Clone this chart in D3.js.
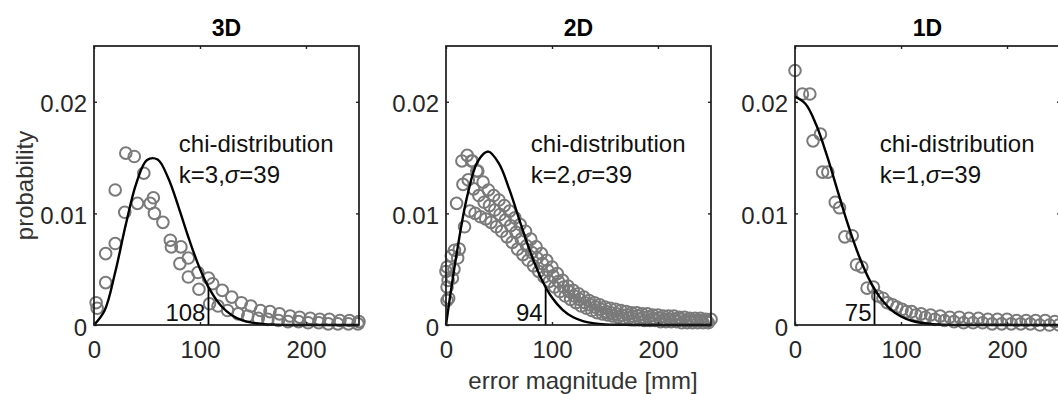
<!DOCTYPE html>
<html lang="en">
<head>
<meta charset="UTF-8">
<title>chi distribution fits</title>
<style>
  body { margin: 0; background: #fff; }
  text { font-family: "Liberation Sans", Arial, sans-serif; fill: #262626; }
</style>
</head>
<body>
<svg id="chart" width="1058" height="394"></svg>
<script src="https://cdn.jsdelivr.net/npm/d3@7/dist/d3.min.js"></script>
<script>
// panels
const titles = ["3D", "2D", "1D"];
const kLabels = ["3", "2", "1"];
const sigmaLabel = "39";
const percentile = [108, 94, 75];
const percentileHeight = [0.0034, 0.0034, 0.0032];

const xTicks = [0, 100, 200];
const yTicks = [0, 0.01, 0.02];
const yTickLabels = ["0", "0.01", "0.02"];

// fitted chi curves, read every 10 mm
const curveX = [0,10,20,30,40,50,60,70,80,90,100,110,120,130,140,150,160,170,180,190,200,210,220,230,240,250];
const fit3d = [0,.00130,.00472,.00901,.01272,.01478,.01483,.01317,.01050,.00760,.00502,.00305,.00170,.00088,.00042,.00019,.00008,.00003,.00001,0,0,0,0,0,0,0];
const fit2d = [0,.00636,.01153,.01467,.01554,.01445,.01208,.00920,.00642,.00413,.00246,.00136,.00069,.00033,.00015,.00006,.00002,.00001,0,0,0,0,0,0,0,0];
const fit1d = [.02046,.01980,.01794,.01522,.01209,.00899,.00627,.00409,.00250,.00143,.00076,.00038,.00018,.00008,.00003,.00001,0,0,0,0,0,0,0,0,0,0];

// observed error histograms [mm, probability]
const obs3d = [[2,.0020],[3,.0015],[11,.0038],[11,.0064],[20,.0073],[20,.0121],[29,.0101],[30,.0154],[38,.0151],[41,.0109],
  [47,.0136],[53,.0109],[56,.0114],[57,.0100],[65,.0092],[72,.0076],[73,.0070],[81,.0055],[82,.0070],[89,.0060],[89,.0043],
  [98,.0047],[99,.0032],[108,.0042],[109,.0019],[112,.0037],[117,.0017],[121,.0031],[126,.0013],[130,.0025],[136,.0010],
  [139,.0020],[145,.0008],[148,.0017],[155,.0006],[157,.0013],[164,.0005],[166,.0012],[174,.0004],[175,.0010],[183,.0003],
  [185,.0008],[193,.0003],[194,.0007],[202,.0002],[204,.0006],[212,.0002],[213,.0005],[221,.0001],[222,.0005],[230,.0001],
  [232,.0004],[240,.0001],[241,.0004],[249,.0001],[250,.0003]];

const obs2dUpperX = [0,5,10,15,20,25,30,35,40,45,50,55,60,65,70,75,80,85,90,95,100,105,110,115,120,125,130,135,140,145,150,155,160,165,170,175,180,185,190,195,200,205,210,215,220,225,230,235,240,245,250];
const obs2dUpper = [.0048,.0062,.0109,.0147,.0152,.0147,.0138,.0128,.0121,.0116,.0112,.0107,.0102,.0096,.0090,.0084,.0077,.0070,.0064,.0058,.0052,.0046,.0040,.0035,.0031,.0028,.0025,.0022,.0020,.0018,.0016,.0015,.0014,.0013,.0012,.0011,.0011,.0010,.0010,.0009,.0009,.0008,.0008,.0008,.0007,.0007,.0006,.0006,.0006,.0005,.0005];
const obs2dMidX = [1,6,11,16,21,26,31,36,41,46,51,56,61,66,71,76,81,86,91,96,101,106,111,116,121,126,131,136,141,146,151,156,161,166,171,176,181,186,191,196,201,206,211,216,221,226,231,236,241,246];
const obs2dMid = [.0034,.0042,.0060,.0126,.0130,.0122,.0116,.0110,.0107,.0103,.0099,.0094,.0089,.0083,.0077,.0071,.0065,.0060,.0055,.0049,.0044,.0039,.0034,.0030,.0026,.0023,.0020,.0018,.0016,.0014,.0012,.0011,.0010,.0009,.0009,.0008,.0008,.0007,.0007,.0006,.0006,.0005,.0005,.0005,.0005,.0004,.0004,.0004,.0004,.0003];
const obs2dLowerX = [2.5,7.5,12.5,17.5,22.5,27.5,32.5,37.5,42.5,47.5,52.5,57.5,62.5,67.5,72.5,77.5,82.5,87.5,92.5,97.5,102.5,107.5,112.5,117.5,122.5,127.5,132.5,137.5,142.5,147.5,152.5,157.5,162.5,167.5,172.5,177.5,182.5,187.5,192.5,197.5,202.5,207.5,212.5,217.5,222.5,227.5,232.5,237.5,242.5,247.5];
const obs2dLower = [.0024,.0050,.0068,.0088,.0102,.0100,.0097,.0095,.0092,.0088,.0084,.0079,.0074,.0068,.0063,.0058,.0053,.0048,.0043,.0039,.0034,.0030,.0026,.0023,.0020,.0017,.0015,.0013,.0011,.0010,.0009,.0008,.0007,.0006,.0006,.0005,.0005,.0004,.0004,.0004,.0003,.0003,.0003,.0003,.0002,.0002,.0002,.0002,.0002,.0002];
const obs2dExtra = [[1,.0022],[2,.0040],[1,.0052],[8,.0067],[24,.0147],[29,.0138]];

const obs1d = [[0,.0228],[7,.0207],[14,.0207],[17,.0165],[24,.0171],[26,.0137],[31,.0137],[38,.0110],[42,.0105],[47,.0079],
  [54,.0080],[58,.0054],[63,.0052],[68,.0033],[74,.0034],[78,.0026],[83,.0024],[87,.0020],[92,.0018],[96,.0016],[101,.0014],
  [105,.0012],[110,.0012],[114,.0009],[119,.0010],[123,.0007],[128,.0009],[132,.0005],[137,.0008],[141,.0004],[146,.0007],
  [150,.0003],[155,.0007],[159,.0002],[164,.0006],[168,.0002],[173,.0006],[177,.0002],[182,.0005],[186,.0001],[191,.0005],
  [195,.0001],[200,.0005],[204,.0001],[209,.0004],[213,.0001],[218,.0004],[222,.0001],[227,.0004],[231,0],[236,.0004],
  [240,0],[245,.0003],[249,0]];

const obs2d = obs2dUpperX.map((x, i) => [x, obs2dUpper[i]])
  .concat(obs2dMidX.map((x, i) => [x, obs2dMid[i]]))
  .concat(obs2dLowerX.map((x, i) => [x, obs2dLower[i]]))
  .concat(obs2dExtra);

const observed = [obs3d, obs2d, obs1d];
const fits = [fit3d, fit2d, fit1d];

let svg = d3.select("#chart");
let lefts = [94, 446, 795];
let marginTop = 46;
let width = 265;
let height = 279;

let xscale = d3.scaleLinear().domain([0, 250]).range([0, width]);
let yscale = d3.scaleLinear().domain([0, 0.025]).range([height, 0]);

let line = d3.line()
  .x(d => xscale(d[0]))
  .y(d => yscale(d[1]))
  .curve(d3.curveCatmullRom);

titles.forEach((t, i) => {
  let g = svg.append("g").attr("transform", "translate(" + lefts[i] + "," + marginTop + ")");

  // circles
  g.append("g").selectAll("circle")
    .data(observed[i])
    .enter().append("circle")
    .attr("cx", d => xscale(d[0]))
    .attr("cy", d => yscale(d[1]))
    .attr("r", 5.8)
    .attr("fill", "none")
    .attr("stroke", "#7a7a7a")
    .attr("stroke-width", 2);

  // fitted curve
  g.append("path")
    .datum(curveX.map((x, j) => [x, fits[i][j]]))
    .attr("d", line)
    .attr("fill", "none")
    .attr("stroke", "#000")
    .attr("stroke-width", 2.4);

  // percentile marker
  g.append("line")
    .attr("x1", xscale(percentile[i])).attr("x2", xscale(percentile[i]))
    .attr("y1", yscale(0)).attr("y2", yscale(percentileHeight[i]))
    .attr("stroke", "#000").attr("stroke-width", 1.8);
  g.append("text")
    .attr("x", xscale(percentile[i]) - 3)
    .attr("y", yscale(0) - 4)
    .attr("text-anchor", "end")
    .style("font-size", "24px")
    .style("fill", "#111")
    .text(percentile[i]);

  // axes
  let yTickText = d => yTickLabels[yTicks.indexOf(d)];
  g.append("g").attr("transform", "translate(0," + height + ")")
    .call(d3.axisBottom(xscale).tickValues(xTicks).tickSize(-3).tickSizeOuter(0).tickPadding(16));
  let leftAx = g.append("g")
    .call(d3.axisLeft(yscale).tickValues(yTicks).tickFormat(yTickText).tickSize(-3).tickSizeOuter(0).tickPadding(7));
  g.append("g")
    .call(d3.axisTop(xscale).tickValues(xTicks).tickSize(-3).tickSizeOuter(0).tickFormat(""));
  g.append("g").attr("transform", "translate(" + width + ",0)")
    .call(d3.axisRight(yscale).tickValues(yTicks).tickSize(-3).tickSizeOuter(0).tickFormat(""));
  g.selectAll(".domain").remove();
  g.selectAll(".tick line").attr("stroke", "#262626").attr("stroke-width", 1.4);
  g.selectAll(".tick text").attr("fill", "#333").style("font-size", "24px")
    .style("font-family", "'Liberation Sans', Arial, sans-serif");
  leftAx.selectAll(".tick text").attr("dy", "0.42em");

  g.append("rect")
    .attr("width", width).attr("height", height)
    .attr("fill", "none").attr("stroke", "#1a1a1a").attr("stroke-width", 1.7);

  // title
  g.append("text")
    .attr("x", width / 2).attr("y", -10)
    .attr("text-anchor", "middle")
    .style("font-size", "23px").style("font-weight", "bold")
    .style("fill", "#000")
    .text(t);

  // annotation
  let note = g.append("text")
    .attr("x", xscale(80)).attr("y", 106)
    .style("font-size", "24px").style("fill", "#111");
  note.append("tspan").text("chi-distribution");
  let l2 = g.append("text")
    .attr("x", xscale(80)).attr("y", 137)
    .style("font-size", "24px").style("fill", "#111");
  l2.append("tspan").text("k=" + kLabels[i] + ",");
  l2.append("tspan").style("font-style", "italic").text("σ");
  l2.append("tspan").text("=" + sigmaLabel);
});

svg.append("text")
  .attr("transform", "translate(33," + (marginTop + height / 2) + ") rotate(-90)")
  .attr("text-anchor", "middle")
  .style("font-size", "24px")
  .style("fill", "#333")
  .text("probability");

svg.append("text")
  .attr("x", 583).attr("y", 389)
  .attr("text-anchor", "middle")
  .style("font-size", "24px")
  .style("fill", "#333")
  .text("error magnitude [mm]");
</script>
</body>
</html>
